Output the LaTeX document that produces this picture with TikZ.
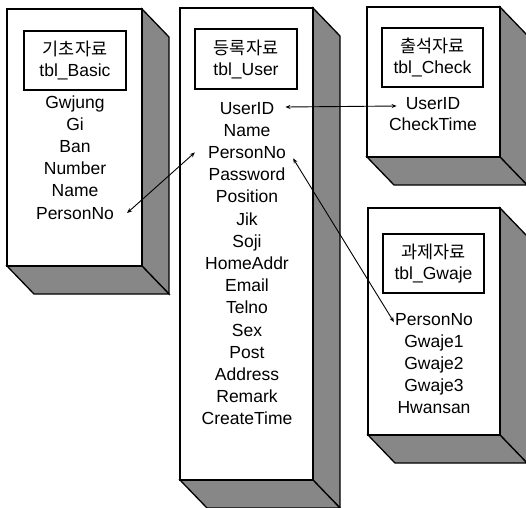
\documentclass[tikz,border=0pt]{standalone}
\usepackage{fontspec}
\setmainfont{Liberation Sans}
\newfontfamily\krfont{Noto Sans CJK KR}
\usetikzlibrary{arrows.meta}

\tikzset{
  face/.style={fill=black!47, draw=black, line width=1.3pt, line join=miter},
  front/.style={fill=white, draw=black, line width=1.2pt},
  titlebox/.style={draw=black, line width=1.4pt, fill=white, align=center,
    inner sep=0pt, font=\fontsize{17.5}{21}\selectfont},
  field/.style={inner sep=1pt, text height=12pt, text depth=0pt,
    font=\fontsize{17.5}{17.5}\selectfont},
  link/.style={{Stealth[length=5pt,width=4pt]}-{Stealth[length=5pt,width=4pt]},
    line width=0.9pt},
}

% extruded table block: front rectangle (L,T)-(R,B), depth 27 x 28
\newcommand\tableblock[4]{%
  \draw[face] (#3,#2) -- (#3+27,#2+28) -- (#3+27,#4+28) -- (#3,#4) -- cycle;
  \draw[face] (#1,#4) -- (#3,#4) -- (#3+27,#4+28) -- (#1+27,#4+28) -- cycle;
  \draw[front] (#1,#2) rectangle (#3,#4);
}

\begin{document}
\begin{tikzpicture}[x=1pt,y=-1pt]
  \useasboundingbox (0,0) rectangle (526,507);
  \clip (0,0) rectangle (526,507);

  % blocks
  \tableblock{7}{9}{142}{266}
  \tableblock{180}{8}{313}{480}
  \tableblock{367}{7}{500}{157}
  \tableblock{368}{208}{500}{435}

  % table titles
  \node[titlebox, minimum width=102pt, minimum height=59pt] (tb) at (75,60.5)
    {{\krfont 기초자료}\\tbl\_Basic};
  \node[titlebox, minimum width=102pt, minimum height=60pt] (tu) at (246,59)
    {{\krfont 등록자료}\\tbl\_User};
  \node[titlebox, minimum width=101pt, minimum height=59pt] (tc) at (432.5,57.5)
    {{\krfont 출석자료}\\tbl\_Check};
  \node[titlebox, minimum width=101pt, minimum height=59pt] (tg) at (433.5,263.5)
    {{\krfont 과제자료}\\tbl\_Gwaje};

  % fields of tbl_Basic
  \foreach \t [count=\i from 0] in {Gwjung,Gi,Ban,Number,Name,PersonNo}
    \node[field] (b\i) at (75,102+22.2*\i) {\t};

  % fields of tbl_User
  \foreach \t [count=\i from 0] in {UserID,Name,PersonNo,Password,Position,Jik,Soji,
      HomeAddr,Email,Telno,Sex,Post,Address,Remark,CreateTime}
    \node[field] (u\i) at (247,108+22.2*\i) {\t};

  % fields of tbl_Check
  \foreach \t [count=\i from 0] in {UserID,CheckTime}
    \node[field] (c\i) at (433,103+21.5*\i) {\t};

  % fields of tbl_Gwaje
  \foreach \t [count=\i from 0] in {PersonNo,Gwaje1,Gwaje2,Gwaje3,Hwansan}
    \node[field] (g\i) at (434,319+22*\i) {\t};

  % relations
  \draw[link] ([xshift=10pt,yshift=1pt]u0.east) -- ([xshift=-8pt,yshift=-3pt]c0.west);
  \draw[link] ([xshift=12pt]b5.east) -- ([xshift=-12pt]u2.west);
  \draw[link] ([xshift=6pt,yshift=-6pt]u2.east) -- ([xshift=0pt,yshift=-3pt]g0.west);
\end{tikzpicture}
\end{document}
